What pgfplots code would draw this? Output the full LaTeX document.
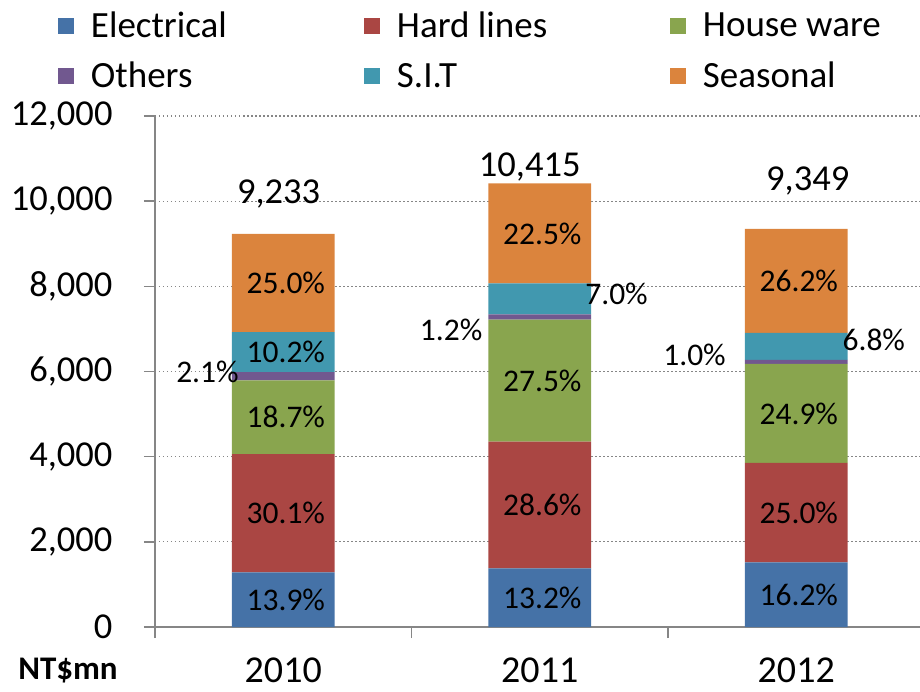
\documentclass[border=0pt]{standalone}
\usepackage{fontspec}
\setmainfont{Carlito}
\usepackage{pgfplots}
\pgfplotsset{compat=1.18}
\definecolor{cE}{HTML}{4572A7}
\definecolor{cH}{HTML}{AA4643}
\definecolor{cW}{HTML}{89A54E}
\definecolor{cO}{HTML}{71588F}
\definecolor{cS}{HTML}{4198AF}
\definecolor{cN}{HTML}{DB843D}
\definecolor{axgray}{HTML}{868686}
\pgfplotsset{sqlegend/.style={legend image code/.code={\fill[##1,draw=none] (0pt,-8pt) rectangle (16pt,8pt);}}}
\begin{document}
\begin{tikzpicture}
\begin{axis}[
  scale only axis, width=765pt, height=511pt,
  xmin=-0.5, xmax=2.4825, ymin=0, ymax=12000,
  ybar stacked, bar width=0.4,
  axis lines=left,
  axis line style={-, draw=axgray, line width=1.5pt},
  xtick={-0.5,0.5,1.5,2.5}, xticklabels={},
  extra x ticks={0,1,2}, extra x tick labels={2010,2011,2012},
  extra x tick style={major tick length=0pt},
  tick align=outside,
  tick style={draw=axgray, line width=1.5pt},
  major tick length=11pt,
  ytick={0,2000,4000,6000,8000,10000,12000},
  scaled y ticks=false,
  /pgf/number format/1000 sep={,},
  /pgf/number format/assume math mode=true,
  ymajorgrids,
  grid style={draw=axgray, line width=1.3pt, dash pattern=on 1.5pt off 2.5pt},
  tick label style={font=\fontsize{36.5}{44}\selectfont},
  xticklabel style={font=\fontsize{38}{46}\selectfont, anchor=base, yshift=-55pt},
  yticklabel style={anchor=east, xshift=-28pt},
  legend columns=3,
  legend style={draw=none, fill=none, inner sep=0pt, outer sep=0pt,
    at={(rel axis cs:0,1)}, anchor=north west, xshift=-97pt, yshift=106pt,
    font=\fontsize{37}{44}\selectfont,
    row sep=19pt,
    /tikz/every odd column/.append style={column sep=15pt},
    /tikz/every even column/.append style={column sep=71pt}},
  legend cell align=left,
  clip=false,
]
\addplot[fill=cE, draw=none, sqlegend] coordinates {(0,1283) (1,1375) (2,1515)};
\addplot[fill=cH, draw=none, sqlegend] coordinates {(0,2779) (1,2979) (2,2337)};
\addplot[fill=cW, draw=none, sqlegend] coordinates {(0,1727) (1,2864) (2,2328)};
\addplot[fill=cO, draw=none, sqlegend] coordinates {(0,194) (1,125) (2,93)};
\addplot[fill=cS, draw=none, sqlegend] coordinates {(0,942) (1,729) (2,636)};
\addplot[fill=cN, draw=none, sqlegend] coordinates {(0,2308) (1,2343) (2,2440)};
\legend{\makebox[200pt][l]{Electrical},\makebox[200pt][l]{Hard lines},\makebox[200pt][l]{House ware},\makebox[200pt][l]{Others},\makebox[200pt][l]{S.I.T},\makebox[200pt][l]{Seasonal}}

\coordinate (a1) at (axis cs:0.01,641);
\coordinate (a2) at (axis cs:0.01,2672);
\coordinate (a3) at (axis cs:0.01,4925);
\coordinate (a4) at (axis cs:0.01,6454);
\coordinate (a5) at (axis cs:0.01,8079);
\coordinate (a6) at (axis cs:-0.173,5990);
\coordinate (b1) at (axis cs:1.01,687);
\coordinate (b2) at (axis cs:1.01,2864);
\coordinate (b3) at (axis cs:1.01,5786);
\coordinate (b4) at (axis cs:1.01,9243);
\coordinate (b5) at (axis cs:0.777,6975);
\coordinate (b6) at (axis cs:1.177,7820);
\coordinate (c1) at (axis cs:2.01,757);
\coordinate (c2) at (axis cs:2.01,2683);
\coordinate (c3) at (axis cs:2.01,5016);
\coordinate (c4) at (axis cs:2.01,8129);
\coordinate (c5) at (axis cs:1.726,6388);
\coordinate (c6) at (axis cs:2.18,6740);
\coordinate (t1) at (axis cs:-0.018,9946);
\coordinate (t2) at (axis cs:0.961,10580);
\coordinate (t3) at (axis cs:2.045,10251);
\coordinate (nt) at (axis description cs:-0.1137,-0.1035);
\end{axis}
\begin{scope}[every node/.style={font=\fontsize{31.5}{38}\selectfont, inner sep=0pt}]
\node at (a1) {13.9\%};
\node at (a2) {30.1\%};
\node at (a3) {18.7\%};
\node at (a4) {10.2\%};
\node at (a5) {25.0\%};
\node[anchor=east] at (a6) {2.1\%};
\node at (b1) {13.2\%};
\node at (b2) {28.6\%};
\node at (b3) {27.5\%};
\node at (b4) {22.5\%};
\node[anchor=east] at (b5) {1.2\%};
\node[anchor=west] at (b6) {7.0\%};
\node at (c1) {16.2\%};
\node at (c2) {25.0\%};
\node at (c3) {24.9\%};
\node at (c4) {26.2\%};
\node[anchor=east] at (c5) {1.0\%};
\node[anchor=west] at (c6) {6.8\%};
\end{scope}
\begin{scope}[every node/.style={font=\fontsize{36.5}{44}\selectfont, inner sep=0pt, anchor=base}]
\node at (t1) {9,233};
\node at (t2) {10,415};
\node at (t3) {9,349};
\end{scope}
\node[font=\fontsize{33}{40}\selectfont\bfseries, inner sep=0pt, anchor=base] at (nt) {NT\$mn};
\pgfresetboundingbox
\path[use as bounding box] (-155pt,-64pt) rectangle (765pt,627pt);
\end{tikzpicture}
\end{document}
